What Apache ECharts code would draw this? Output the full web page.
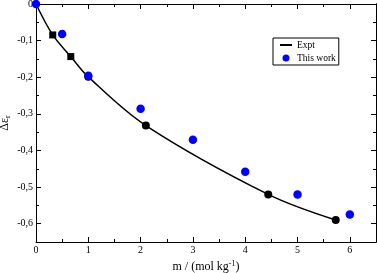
<!DOCTYPE html>
<html><head><meta charset="utf-8">
<script src="https://cdn.jsdelivr.net/npm/echarts@6/dist/echarts.min.js"></script>
<style>html,body{margin:0;padding:0;background:#fff}#c{width:377px;height:273px}</style>
</head><body><div id="c"></div>
<script>
const exptLineX = [0, 0.32, 0.665, 1.0, 2.1, 4.44, 5.73];
const exptLineY = [0, -0.0845, -0.1436, -0.199, -0.332, -0.52, -0.59];
// Experimental markers
const exptSquareX = [0.32, 0.665];
const exptSquareY = [-0.0845, -0.1436];
const exptCircleX = [1.0, 2.1, 4.44, 5.73];
const exptCircleY = [-0.199, -0.332, -0.52, -0.59];
// This work
const workX = [0, 0.5, 1, 2, 3, 4, 5, 6];
const workY = [0, -0.082, -0.196, -0.286, -0.371, -0.458, -0.52, -0.575];
// Ticks
const xTicks = [0, 1, 2, 3, 4, 5, 6];
const yTickValues = [0, -0.1, -0.2, -0.3, -0.4, -0.5, -0.6];
const yTickLabels = ['0', '-0,1', '-0,2', '-0,3', '-0,4', '-0,5', '-0,6'];
const yMinorValues = [-0.05, -0.15, -0.25, -0.35, -0.45, -0.55, -0.65];

const zip = (a, b) => a.map((v, i) => [v, b[i]]);
const font = 'Liberation Serif';
const lineBlack = {show: true, onZero: false, lineStyle: {color: '#000', width: 1}};
const tickStyle = {show: true, inside: true, length: 5, lineStyle: {color: '#000', width: 1}};
const minorStyle = {show: true, splitNumber: 2, length: 3, lineStyle: {color: '#000', width: 1}};
const yMajorTick = Object.assign({}, tickStyle, {customValues: yTickValues});
const yMinorTick = Object.assign({}, tickStyle, {length: 3, customValues: yMinorValues});
const yLabel = v => { const i = yTickValues.findIndex(t => Math.abs(t - v) < 1e-9); return i >= 0 ? yTickLabels[i] : ''; };
const yBase = {type: 'value', min: -0.65, max: 0, splitLine: {show: false}, axisLine: lineBlack};
const chart = echarts.init(document.getElementById('c'));
chart.setOption({
  animation: false,
  grid: {left: 36, right: 1, top: 4, bottom: 31, containLabel: false, outerBoundsMode: 'none'},
  legend: {
    orient: 'vertical', left: 273, top: 38,
    data: [{name: 'Expt', itemStyle: {opacity: 0}}, {name: 'This work', icon: 'circle'}],
    itemWidth: 12, itemHeight: 7, itemGap: 3,
    padding: [2, 3, 2, 6],
    borderColor: '#000', borderWidth: 1, borderRadius: 0,
    textStyle: {fontFamily: font, fontSize: 9.5, color: '#000', padding: [0, 0, 0, 0]}
  },
  xAxis: [{
    type: 'value', min: 0, max: 6.5, interval: 1,
    axisLine: lineBlack, axisTick: tickStyle, minorTick: minorStyle,
    splitLine: {show: false},
    axisLabel: {fontFamily: font, fontSize: 10, color: '#000', margin: 3,
      formatter: v => (xTicks.indexOf(v) >= 0 ? String(v) : '')},
    name: '{a|m / (mol kg}{s|-1}{a|)}', nameLocation: 'middle', nameGap: 18, nameMoveOverlap: false,
    nameTextStyle: {fontFamily: font, fontSize: 12, color: '#000',
      rich: {a: {fontFamily: font, fontSize: 12, color: '#000'},
      s: {fontFamily: font, fontSize: 8, color: '#000', verticalAlign: 'top', padding: [0, 0, 6, 0]}}}
  }, {
    type: 'value', min: 0, max: 6.5, interval: 1, position: 'top',
    axisLine: lineBlack, axisTick: tickStyle, minorTick: minorStyle, axisLabel: {show: false}, splitLine: {show: false}
  }],
  yAxis: [Object.assign({}, yBase, {
    axisTick: yMajorTick,
    axisLabel: {fontFamily: font, fontSize: 10, color: '#000', margin: 3, customValues: yTickValues, formatter: yLabel},
    name: '{a|Δε}{s|r}', nameLocation: 'middle', nameGap: 24, nameMoveOverlap: false,
    nameTextStyle: {fontFamily: font, fontSize: 12, color: '#000',
      rich: {a: {fontFamily: font, fontSize: 12, color: '#000'},
      s: {fontFamily: font, fontSize: 8, color: '#000', verticalAlign: 'bottom', padding: [6, 0, 0, 0]}}}
  }), Object.assign({}, yBase, {position: 'left', axisTick: yMinorTick, axisLabel: {show: false}}),
  Object.assign({}, yBase, {position: 'right', axisTick: yMajorTick, axisLabel: {show: false}}),
  Object.assign({}, yBase, {position: 'right', axisTick: yMinorTick, axisLabel: {show: false}})],
  series: [
    {name: 'Expt', type: 'line', data: zip(exptLineX, exptLineY), smooth: 0.35, showSymbol: false, symbol: 'none',
      lineStyle: {color: '#000', width: 1.5}, itemStyle: {color: '#000'}, z: 2},
    {name: 'ExptSq', type: 'scatter', data: zip(exptSquareX, exptSquareY), symbol: 'rect', symbolSize: 7,
      itemStyle: {color: '#000', opacity: 1}, z: 3},
    {name: 'ExptCi', type: 'scatter', data: zip(exptCircleX, exptCircleY), symbol: 'circle', symbolSize: 8,
      itemStyle: {color: '#000', opacity: 1}, z: 3},
    {name: 'This work', type: 'scatter', data: zip(workX, workY), symbol: 'circle', symbolSize: 8.5,
      itemStyle: {color: '#0000ff', opacity: 1}, z: 4}
  ]
});
</script></body></html>
